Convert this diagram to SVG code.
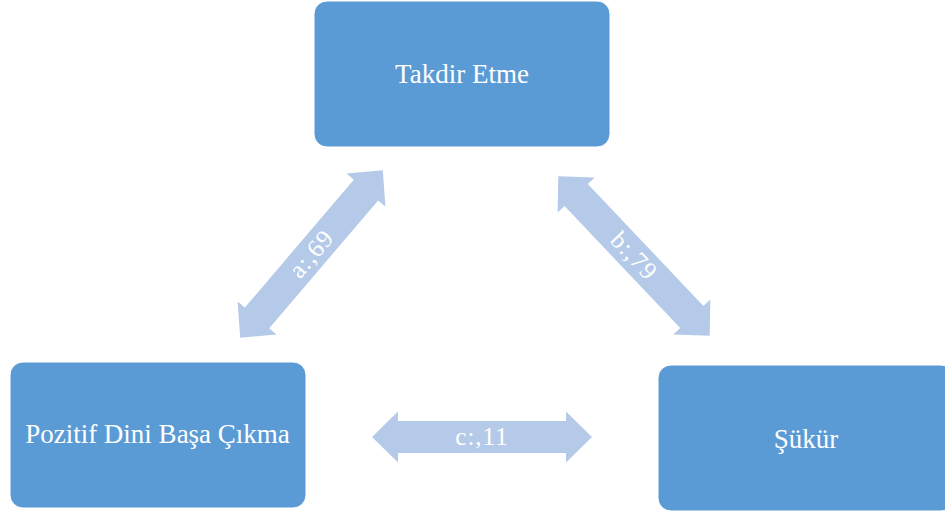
<svg xmlns="http://www.w3.org/2000/svg" xmlns:xlink="http://www.w3.org/1999/xlink" width="945" height="515" viewBox="0 0 945 515">
<style>
.box{fill:#5B9BD5;stroke:#ffffff;stroke-width:1}
.lbl{font-family:"Liberation Serif","DejaVu Serif",serif;font-size:27px;fill:#ffffff;text-anchor:middle}
.arr{fill:#B4CAE8}
.al{font-family:"Liberation Serif","DejaVu Serif",serif;font-size:25px;letter-spacing:1px;fill:#ffffff;text-anchor:middle}
</style>
<defs>
<path id="dbl" d="M -110 0 L -84 -25.5 L -84 -16 L 84 -16 L 84 -25.5 L 110 0 L 84 25.5 L 84 16 L -84 16 L -84 25.5 Z"/>
</defs>
<rect width="945" height="515" fill="#ffffff"/>
<g id="connectors">
<g id="conn-a" transform="translate(311.5,254) rotate(-49.6)">
<use xlink:href="#dbl" class="arr"/>
<text class="al" x="0" y="8">a:,69</text>
</g>
<g id="conn-b" transform="translate(634,256) rotate(46.5)">
<use xlink:href="#dbl" class="arr"/>
<text class="al" x="0" y="8">b:,79</text>
</g>
<g id="conn-c" transform="translate(482,437)">
<use xlink:href="#dbl" class="arr"/>
<text class="al" x="0" y="8">c:,11</text>
</g>
</g>
<g id="node-takdir">
<rect class="box" x="314" y="1" width="296" height="146" rx="13"/>
<text class="lbl" x="462" y="83">Takdir Etme</text>
</g>
<g id="node-pozitif">
<rect class="box" x="10" y="362" width="296" height="146" rx="13"/>
<text class="lbl" x="157.5" y="443">Pozitif Dini Başa Çıkma</text>
</g>
<g id="node-sukur">
<rect class="box" x="658" y="365" width="296" height="146" rx="13"/>
<text class="lbl" x="806" y="448">Şükür</text>
</g>
</svg>
